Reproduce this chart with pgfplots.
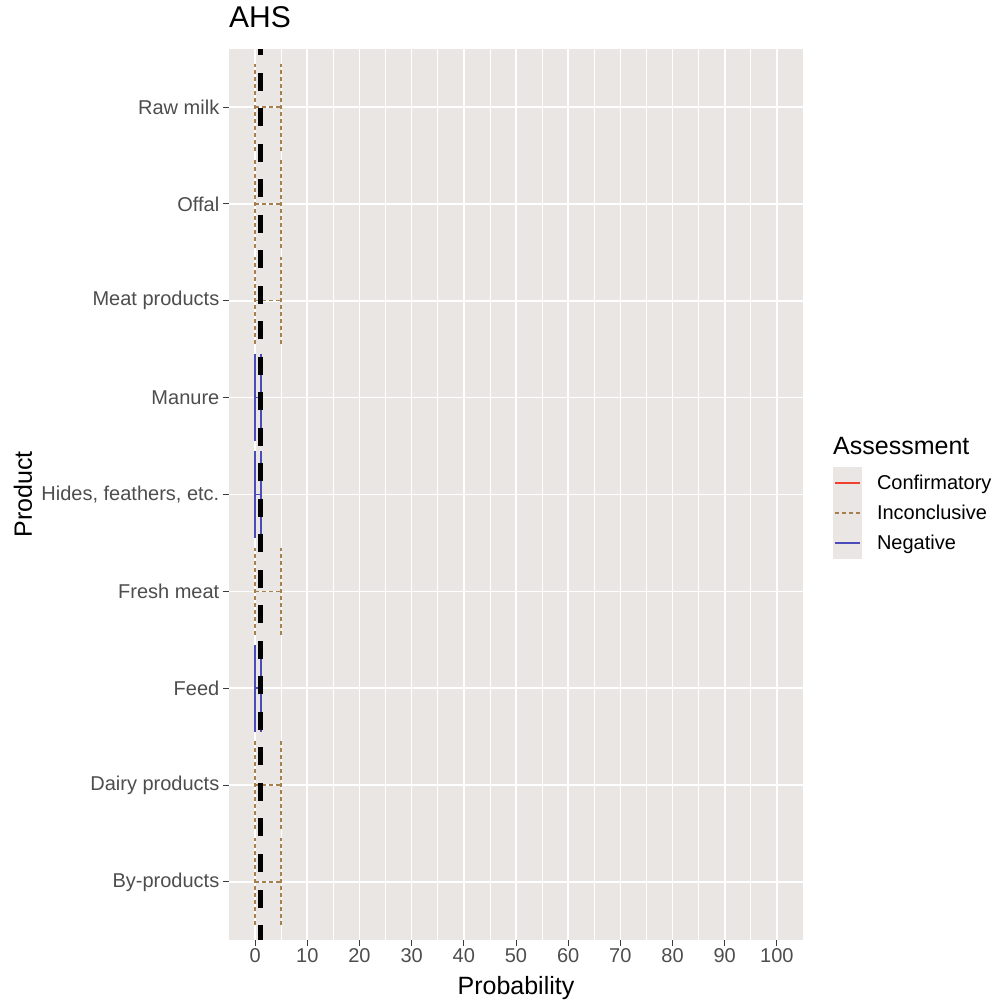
\documentclass[border=0pt]{standalone}
\usepackage{pgfplots}
\pgfplotsset{compat=1.18}
\usepackage{pgfplotstable}
\usepackage{fontspec}
\setmainfont{Liberation Sans}
\definecolor{panelgrey}{RGB}{233,230,228}
\definecolor{ticklab}{RGB}{77,77,77}
\definecolor{tickcol}{RGB}{60,60,60}
\definecolor{confcol}{RGB}{240,64,48}
\definecolor{inccol}{RGB}{168,128,80}
\definecolor{negcol}{RGB}{75,75,185}

% Inconclusive: interval 0--5 with caps of height 0.9 (nan separates segments)
\pgfplotstableread{
x y
0 9
5 9
nan nan
0 8.55
0 9.45
nan nan
5 8.55
5 9.45
nan nan
0 8
5 8
nan nan
0 7.55
0 8.45
nan nan
5 7.55
5 8.45
nan nan
0 7
5 7
nan nan
0 6.55
0 7.45
nan nan
5 6.55
5 7.45
nan nan
0 4
5 4
nan nan
0 3.55
0 4.45
nan nan
5 3.55
5 4.45
nan nan
0 2
5 2
nan nan
0 1.55
0 2.45
nan nan
5 1.55
5 2.45
nan nan
0 1
5 1
nan nan
0 0.55
0 1.45
nan nan
5 0.55
5 1.45
}\inctable
% Negative: interval 0--1.1
\pgfplotstableread{
x y
0 6
1.1 6
nan nan
0 5.55
0 6.45
nan nan
1.1 5.55
1.1 6.45
nan nan
0 5
1.1 5
nan nan
0 4.55
0 5.45
nan nan
1.1 4.55
1.1 5.45
nan nan
0 3
1.1 3
nan nan
0 2.55
0 3.45
nan nan
1.1 2.55
1.1 3.45
}\negtable

\begin{document}
\begin{tikzpicture}
\useasboundingbox (-229bp,-63bp) rectangle (766bp,940bp);
\begin{axis}[
  scale only axis,
  width=574bp, height=891bp,
  xmin=-5, xmax=105, ymin=0.4, ymax=9.6,
  axis background/.style={fill=panelgrey},
  axis line style={draw=none},
  tick pos=left,
  xtick={0,10,...,100},
  minor x tick num=1,
  ytick={1,...,9},
  yticklabels={By-products,Dairy products,Feed,Fresh meat,{Hides, feathers, etc.},Manure,Meat products,Offal,Raw milk},
  xmajorgrids, xminorgrids, ymajorgrids,
  major grid style={white, line width=1.6bp},
  minor grid style={white, line width=0.8bp},
  tick align=outside,
  major tick length=6bp, minor tick length=0bp,
  tick style={tickcol, line width=1bp},
  /pgf/number format/assume math mode=true,
  ticklabel style={font=\fontsize{20bp}{24bp}\selectfont, text=ticklab},
  yticklabel style={inner sep=3.5bp},
  xticklabel style={inner sep=2.5bp},
  xlabel={Probability}, ylabel={Product},
  xlabel style={at={([yshift=-54bp]rel axis cs:0.5,0)}, anchor=base, inner sep=0pt, font=\fontsize{25bp}{30bp}\selectfont},
  ylabel style={at={([xshift=-197bp]rel axis cs:0,0.5)}, rotate=0, anchor=base, inner sep=0pt, font=\fontsize{25bp}{30bp}\selectfont},
  title={AHS},
  title style={at={([yshift=16bp]rel axis cs:0,1)}, anchor=base west, inner sep=0pt, font=\fontsize{30bp}{36bp}\selectfont},
  clip=false,
  unbounded coords=jump,
  legend style={at={([xshift=604bp,yshift=472bp]rel axis cs:0,0)}, anchor=north west, draw=none, fill=none, inner sep=0pt, outer sep=0pt, row sep=0pt, font=\fontsize{20bp}{24bp}\selectfont, nodes={inner sep=0pt}, /tikz/every odd column/.append style={column sep=15bp}},
  legend cell align=left,
]
\addlegendimage{legend image code/.code={\fill[fill=panelgrey, draw=none, overlay] (0bp,-16bp) rectangle (29bp,16bp); \path[draw=none, fill=none] (0bp,-15bp) rectangle (29bp,15bp); \draw[color=confcol, draw=confcol, line width=1.4bp, solid] (2bp,0bp) -- (27bp,0bp);}}
\addlegendentry{Confirmatory}
\addlegendimage{legend image code/.code={\fill[fill=panelgrey, draw=none, overlay] (0bp,-16bp) rectangle (29bp,16bp); \path[draw=none, fill=none] (0bp,-15bp) rectangle (29bp,15bp); \draw[color=inccol, draw=inccol, line width=1.4bp, dash pattern=on 4bp off 3bp] (2bp,0bp) -- (27bp,0bp);}}
\addlegendentry{Inconclusive}
\addlegendimage{legend image code/.code={\fill[fill=panelgrey, draw=none, overlay] (0bp,-16bp) rectangle (29bp,16bp); \path[draw=none, fill=none] (0bp,-15bp) rectangle (29bp,15bp); \draw[color=negcol, draw=negcol, line width=1.4bp, solid] (2bp,0bp) -- (27bp,0bp);}}
\addlegendentry{Negative}

\addplot[inccol, line width=1.4bp, dash pattern=on 4bp off 3bp, mark=none, forget plot] table[x=x, y=y] {\inctable};
\addplot[negcol, line width=1.4bp, solid, mark=none, forget plot] table[x=x, y=y] {\negtable};
\addplot[black, line width=5bp, dash pattern=on 18bp off 17.5bp, dash phase=3bp, mark=none, forget plot] coordinates {(1.1,0.4) (1.1,9.6)};
\end{axis}
\node[anchor=base west, inner sep=0pt, font=\fontsize{25bp}{30bp}\selectfont] at (604bp,485bp) {Assessment};
\end{tikzpicture}
\end{document}
